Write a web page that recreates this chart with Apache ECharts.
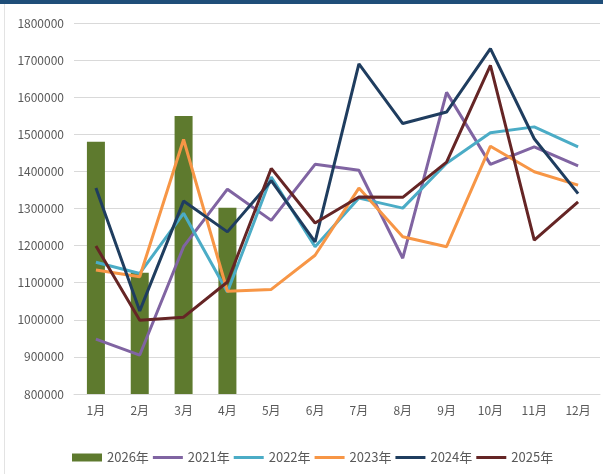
<!DOCTYPE html>
<html>
<head>
<meta charset="utf-8">
<style>
    html, body { margin: 0; padding: 0; background: #fff; }
    #main { width: 603px; height: 474px; }
</style>
<script src="https://cdn.jsdelivr.net/npm/echarts@6/dist/echarts.min.js"></script>
</head>
<body>
<div id="main"></div>
<script>
    var months = ['1月', '2月', '3月', '4月', '5月', '6月', '7月', '8月', '9月', '10月', '11月', '12月'];
    var y2026 = [1480000, 1127000, 1549000, 1302000];
    var y2021 = [948000, 905000, 1197000, 1352000, 1268000, 1419000, 1403000, 1166000, 1613000, 1419000, 1466000, 1415000];
    var y2022 = [1155000, 1125000, 1287000, 1075000, 1385000, 1197000, 1328000, 1301000, 1422000, 1504000, 1520000, 1466000];
    var y2023 = [1134000, 1116000, 1486000, 1077000, 1082000, 1174000, 1355000, 1224000, 1197000, 1468000, 1399000, 1363000];
    var y2024 = [1355000, 1024000, 1320000, 1237000, 1375000, 1210000, 1690000, 1529000, 1560000, 1731000, 1488000, 1340000];
    var y2025 = [1199000, 999000, 1007000, 1102000, 1408000, 1261000, 1331000, 1330000, 1425000, 1686000, 1215000, 1318000];

    var font = '"Noto Sans CJK SC", "Noto Sans", sans-serif';
    // 图例里的线条样式
    var lineIcon = 'path://M0,0H30V3H0Z';

    function lineSeries(name, data, color) {
        return {
            name: name,
            type: 'line',
            data: data,
            symbol: 'none',
            lineStyle: {color: color, width: 3},
            itemStyle: {color: color}
        };
    }

    var chart = echarts.init(document.getElementById('main'));
    chart.setOption({
        animation: false,
        textStyle: {fontFamily: font},
        graphic: [
            {type: 'rect', shape: {x: 0, y: 0, width: 603, height: 4}, style: {fill: '#1f4e79'}},
            {type: 'line', shape: {x1: 4.5, y1: 4, x2: 4.5, y2: 474}, style: {stroke: '#e3e3e3', lineWidth: 1}}
        ],
        legend: {
            left: 67,
            top: 446,
            itemWidth: 30,
            itemHeight: 8,
            itemGap: 4,
            symbolKeepAspect: true,
            textStyle: {color: '#595959', fontSize: 13, fontFamily: font},
            data: [
                {name: '2026年', icon: 'rect'},
                {name: '2021年', icon: lineIcon},
                {name: '2022年', icon: lineIcon},
                {name: '2023年', icon: lineIcon},
                {name: '2024年', icon: lineIcon},
                {name: '2025年', icon: lineIcon}
            ]
        },
        grid: {
            left: 74,
            right: 3,
            top: 23,
            bottom: 80
        },
        xAxis: {
            type: 'category',
            data: months,
            axisTick: {show: false},
            axisLine: {lineStyle: {color: '#d9d9d9'}},
            axisLabel: {color: '#595959', fontSize: 12, margin: 10, fontFamily: font}
        },
        yAxis: {
            type: 'value',
            min: 800000,
            max: 1800000,
            interval: 100000,
            axisLine: {show: false},
            axisTick: {show: false},
            splitLine: {lineStyle: {color: '#d9d9d9'}},
            axisLabel: {
                color: '#595959',
                fontSize: 12,
                margin: 10,
                fontFamily: font,
                formatter: function (v) { return String(v); }
            }
        },
        series: [
            {
                name: '2026年',
                type: 'bar',
                data: y2026,
                barWidth: 18,
                itemStyle: {color: '#5e7a2e'}
            },
            lineSeries('2021年', y2021, '#8064a2'),
            lineSeries('2022年', y2022, '#4bacc6'),
            lineSeries('2023年', y2023, '#f79646'),
            lineSeries('2024年', y2024, '#1f3d5f'),
            lineSeries('2025年', y2025, '#652525')
        ]
    });
</script>
</body>
</html>
